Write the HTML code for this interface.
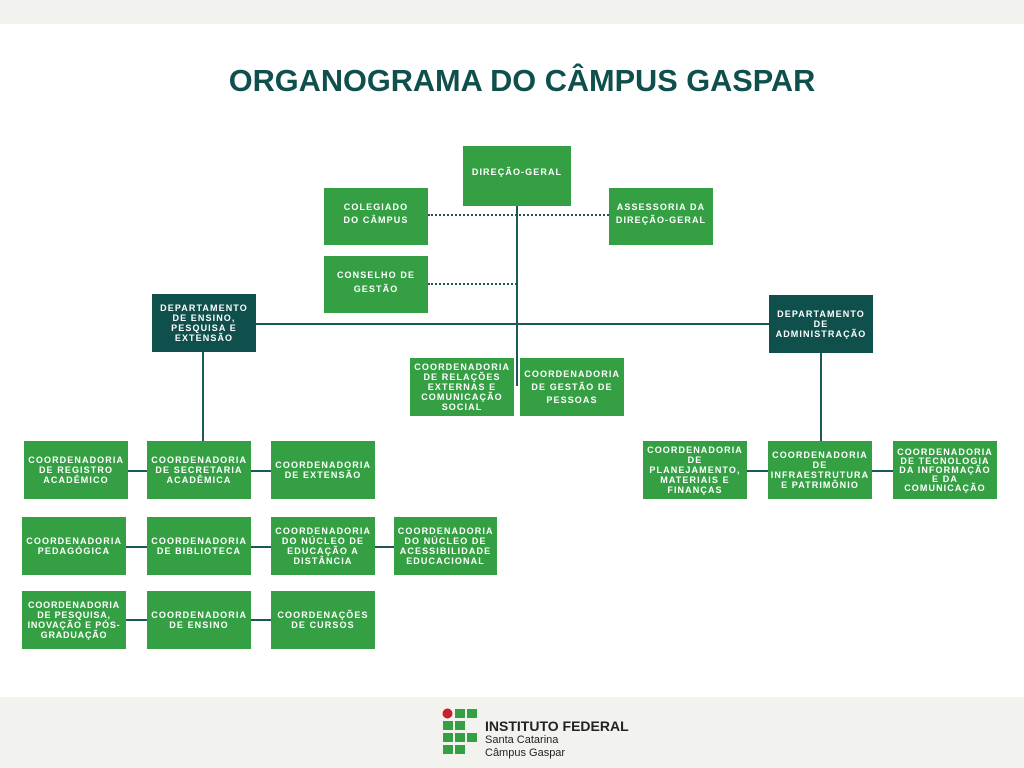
<!DOCTYPE html>
<html><head><meta charset="utf-8"><style>
body{margin:0;width:1024px;height:768px;background:#fff;position:relative;overflow:hidden;font-family:"Liberation Sans",sans-serif}
.top{position:absolute;left:0;top:0;width:1024px;height:24px;background:#f2f3ef}
.bot{position:absolute;left:0;top:697px;width:1024px;height:71px;background:#f2f3ef}
h1{position:absolute;left:10px;top:63px;width:1024px;margin:0;text-align:center;font-size:30.7px;font-weight:bold;color:#0f4f4c}
.b{position:absolute;background:#34a043;color:#fff;font-weight:bold;font-size:9px;letter-spacing:1.1px;line-height:10px;display:flex;align-items:center;justify-content:center;text-align:center;box-sizing:border-box;padding:0 5px}
.d{background:#0f4f4c}
.l{position:absolute;background:#1a5a56}
.dot{position:absolute;border-top:2px dotted #1a5a56;height:0}
</style></head><body>
<div class="top"></div><div class="bot"></div>
<h1>ORGANOGRAMA DO CÂMPUS GASPAR</h1>

<div class="l" style="left:516px;top:206px;width:2px;height:180px"></div>
<div class="l" style="left:256px;top:323px;width:513px;height:2px"></div>
<div class="dot" style="left:428px;top:214px;width:181px"></div>
<div class="dot" style="left:428px;top:283px;width:89px"></div>
<div class="l" style="left:202px;top:352px;width:2px;height:89px"></div>
<div class="l" style="left:820px;top:353px;width:2px;height:88px"></div>
<div class="l" style="left:128px;top:470px;width:147px;height:2px"></div>
<div class="l" style="left:126px;top:546px;width:270px;height:2px"></div>
<div class="l" style="left:126px;top:619px;width:147px;height:2px"></div>
<div class="l" style="left:747px;top:470px;width:148px;height:2px"></div>

<div class="b" style="left:463px;top:146px;width:108px;height:60px;padding-bottom:8px">DIREÇÃO-GERAL</div>
<div class="b" style="left:324px;top:188px;width:104px;height:57px;line-height:13px;padding-bottom:6px">COLEGIADO<br>DO CÂMPUS</div>
<div class="b" style="left:609px;top:188px;width:104px;height:57px;line-height:13px;padding-bottom:6px">ASSESSORIA DA DIREÇÃO-GERAL</div>
<div class="b" style="left:324px;top:256px;width:104px;height:57px;line-height:14px;padding-bottom:6px">CONSELHO DE GESTÃO</div>
<div class="b d" style="left:152px;top:294px;width:104px;height:58px">DEPARTAMENTO DE ENSINO, PESQUISA E EXTENSÃO</div>
<div class="b d" style="left:769px;top:295px;width:104px;height:58px;padding:0 8px">DEPARTAMENTO DE ADMINISTRAÇÃO</div>
<div class="b" style="left:410px;top:358px;width:104px;height:58px">COORDENADORIA DE RELAÇÕES EXTERNAS E COMUNICAÇÃO SOCIAL</div>
<div class="b" style="left:520px;top:358px;width:104px;height:58px;line-height:13px">COORDENADORIA DE GESTÃO DE PESSOAS</div>

<div class="b" style="left:24px;top:441px;width:104px;height:58px">COORDENADORIA DE REGISTRO ACADÊMICO</div>
<div class="b" style="left:147px;top:441px;width:104px;height:58px">COORDENADORIA DE SECRETARIA ACADÊMICA</div>
<div class="b" style="left:271px;top:441px;width:104px;height:58px">COORDENADORIA DE EXTENSÃO</div>
<div class="b" style="left:643px;top:441px;width:104px;height:58px;padding:0 1px">COORDENADORIA DE PLANEJAMENTO, MATERIAIS E FINANÇAS</div>
<div class="b" style="left:768px;top:441px;width:104px;height:58px;padding:0 2px">COORDENADORIA DE INFRAESTRUTURA E PATRIMÔNIO</div>
<div class="b" style="left:893px;top:441px;width:104px;height:58px;line-height:9px;padding:0 3px">COORDENADORIA DE TECNOLOGIA DA INFORMAÇÃO E DA COMUNICAÇÃO</div>

<div class="b" style="left:22px;top:517px;width:104px;height:58px">COORDENADORIA PEDAGÓGICA</div>
<div class="b" style="left:147px;top:517px;width:104px;height:58px">COORDENADORIA DE BIBLIOTECA</div>
<div class="b" style="left:271px;top:517px;width:104px;height:58px">COORDENADORIA DO NÚCLEO DE EDUCAÇÃO A DISTÂNCIA</div>
<div class="b" style="left:394px;top:517px;width:103px;height:58px">COORDENADORIA DO NÚCLEO DE ACESSIBILIDADE EDUCACIONAL</div>

<div class="b" style="left:22px;top:591px;width:104px;height:58px;padding:0 1px;letter-spacing:0.8px;white-space:nowrap">COORDENADORIA<br>DE PESQUISA,<br>INOVAÇÃO E PÓS-<br>GRADUAÇÃO</div>
<div class="b" style="left:147px;top:591px;width:104px;height:58px">COORDENADORIA DE ENSINO</div>
<div class="b" style="left:271px;top:591px;width:104px;height:58px">COORDENAÇÕES DE CURSOS</div>

<svg style="position:absolute;left:442px;top:708px" width="40" height="52">
<circle cx="5.5" cy="5.5" r="5" fill="#c8202a"/>
<g fill="#34a043">
<rect x="13" y="1" width="10" height="9"/><rect x="25" y="1" width="10" height="9"/>
<rect x="1" y="13" width="10" height="9"/><rect x="13" y="13" width="10" height="9"/>
<rect x="1" y="25" width="10" height="9"/><rect x="13" y="25" width="10" height="9"/><rect x="25" y="25" width="10" height="9"/>
<rect x="1" y="37" width="10" height="9"/><rect x="13" y="37" width="10" height="9"/>
</g></svg>
<div style="position:absolute;left:485px;top:718px;font-size:14px;font-weight:bold;color:#222">INSTITUTO FEDERAL</div>
<div style="position:absolute;left:485px;top:734px;font-size:11px;color:#222;line-height:13px">Santa Catarina<br>Câmpus Gaspar</div>
</body></html>
